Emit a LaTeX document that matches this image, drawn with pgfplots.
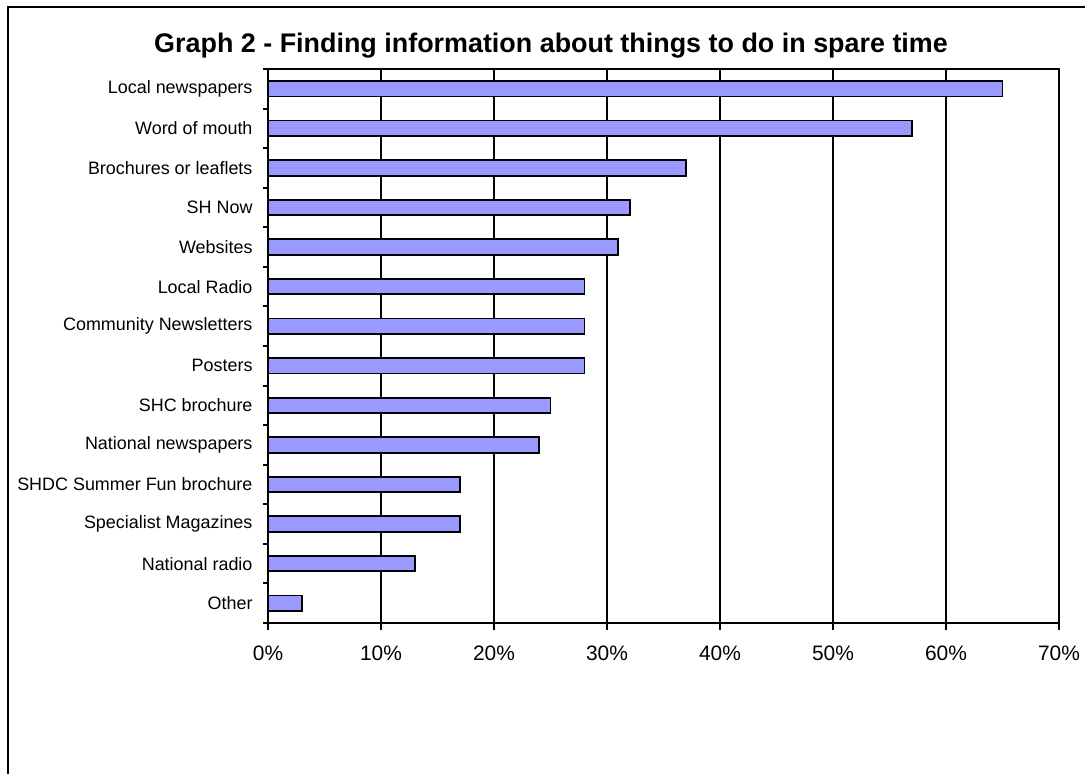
\documentclass[border=0pt]{standalone}
\usepackage{fontspec}
\setmainfont{Liberation Sans}
\usepackage{pgfplots}
\pgfplotsset{compat=1.18}
\definecolor{barblue}{HTML}{9999FF}
\begin{document}
\begin{tikzpicture}[x=1bp,y=1bp]
\useasboundingbox (0,0) rectangle (1085,774);
\draw[line width=2.5bp] (8,-2) -- (8,767) -- (1087,767);
\node[anchor=base, font=\fontsize{27}{32}\selectfont\bfseries] at (551,721) {Graph 2 - Finding information about things to do in spare time};
\begin{axis}[
  at={(268bp,151bp)}, anchor=south west,
  scale only axis, width=791bp, height=554bp,
  xmin=0, xmax=70, ymin=-0.5, ymax=13.5, y dir=reverse,
  xtick={0,10,...,70},
  xticklabel={\pgfmathprintnumber{\tick}\%},
  /pgf/number format/assume math mode=true,
  ytick={0,...,13},
  yticklabels={Local newspapers, Word of mouth, Brochures or leaflets, SH Now, Websites, Local Radio, Community Newsletters, Posters, SHC brochure, National newspapers, SHDC Summer Fun brochure, Specialist Magazines, National radio, Other},
  minor ytick={-0.5,0.5,...,13.5},
  major y tick style={draw=none},
  tick align=outside, tick pos=left,
  major tick length=7bp, minor tick length=5bp,
  xmajorgrids, grid style={black, line width=2bp},
  axis line style={line width=2bp},
  tick style={black, line width=2bp},
  xticklabel style={font=\fontsize{21}{25}\selectfont, yshift=-12bp},
  yticklabel style={font=\fontsize{18}{22}\selectfont, xshift=-5bp},
]
\addplot[xbar, bar width=15.5bp, fill=barblue, draw=black, line width=1.8bp] coordinates {
(65,0) (57,1) (37,2) (32,3) (31,4) (28,5) (28,6) (28,7) (25,8) (24,9) (17,10) (17,11) (13,12) (3,13)};
\end{axis}
\end{tikzpicture}
\end{document}
